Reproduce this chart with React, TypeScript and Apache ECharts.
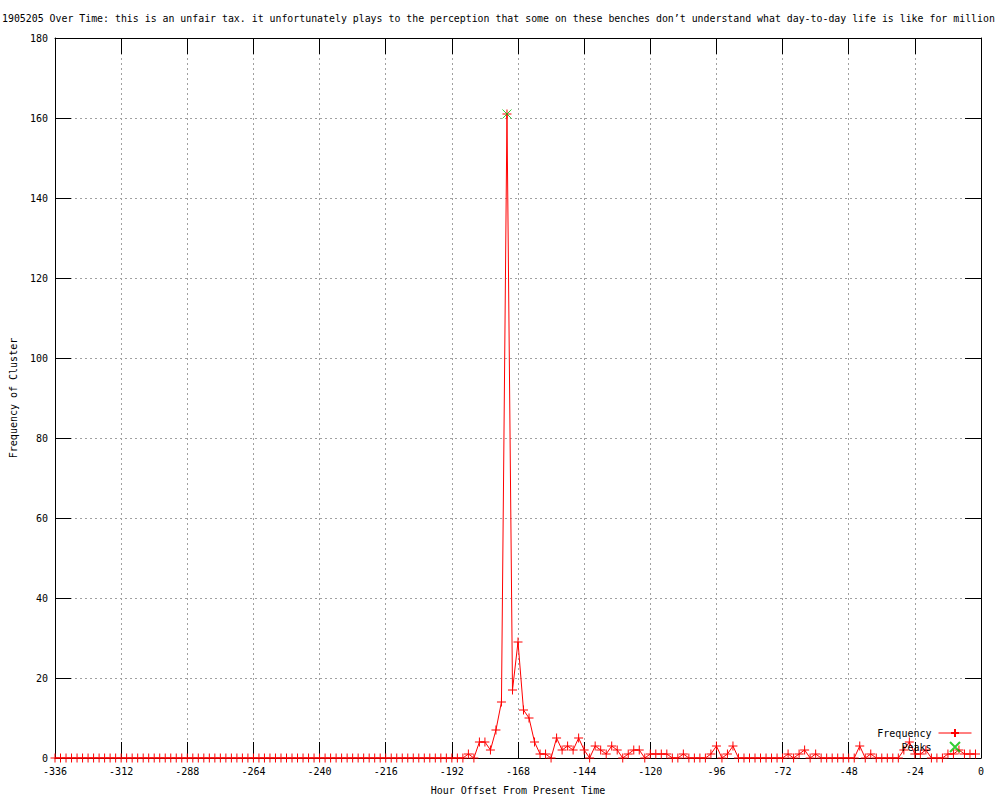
import React, { useEffect, useRef } from "react";
import * as echarts from "echarts";

const titleText =
  "1905205 Over Time: this is an unfair tax. it unfortunately plays to the perception that some on these benches don\u2019t understand what day-to-day life is like for million";

const startHour = -336;
const hourStep = 2;

// Frequency per 2-hour bin, from -336 to -2
const frequency = [
  0, 0, 0, 0, 0, 0, 0, 0, 0, 0, 0, 0, // -336 .. -314
  0, 0, 0, 0, 0, 0, 0, 0, 0, 0, 0, 0, // -312 .. -290
  0, 0, 0, 0, 0, 0, 0, 0, 0, 0, 0, 0, // -288 .. -266
  0, 0, 0, 0, 0, 0, 0, 0, 0, 0, 0, 0, // -264 .. -242
  0, 0, 0, 0, 0, 0, 0, 0, 0, 0, 0, 0, // -240 .. -218
  0, 0, 0, 0, 0, 0, 0, 0, 0, 0, 0, 0, // -216 .. -194
  0, 0, 0, 1, 0, 4, 4, 2, 7, 14, 161, 17, // -192 .. -170
  29, 12, 10, 4, 1, 1, 0, 5, 2, 3, 2, 5, // -168 .. -146
  2, 0, 3, 2, 1, 3, 2, 0, 1, 2, 2, 0, // -144 .. -122
  1, 1, 1, 1, 0, 0, 1, 0, 0, 0, 0, 1, // -120 .. -98
  3, 0, 1, 3, 0, 0, 0, 0, 0, 0, 0, 0, // -96 .. -74
  0, 1, 0, 1, 2, 0, 1, 0, 0, 0, 0, 0, // -72 .. -50
  0, 0, 3, 0, 1, 0, 0, 0, 0, 0, 2, 4, // -48 .. -26
  1, 1, 2, 0, 0, 0, 1, 1, 2, 1, 1, 1, // -24 .. -2
];

const peakHours = [-172];
const peakValues = [161];

const xTicks = { min: -336, max: 0, interval: 24 };
const yTicks = { min: 0, max: 180, interval: 20 };

const FONT = "'DejaVu Sans Mono', monospace";
const PLUS = "path://M0,5 L10,5 M5,0 L5,10";
const CROSS = "path://M0,0 L10,10 M10,0 L0,10";

export default function App() {
  const ref = useRef<HTMLDivElement>(null);

  useEffect(() => {
    if (!ref.current) return;
    const chart = echarts.init(ref.current, null, { renderer: "svg" });

    const freqData = frequency.map((v, i) => [startHour + i * hourStep, v]);
    const peakData = peakHours.map((h, i) => [h, peakValues[i]]);

    const tickStyle = { show: true, inside: true, length: 16, lineStyle: { color: "#000", width: 1 } };
    const axisLine = { show: true, onZero: false, lineStyle: { color: "#000", width: 1 } };
    const split = { show: true, lineStyle: { color: "#a0a0a0", width: 1, type: [2, 3] as any } };
    const label = { color: "#000", fontFamily: FONT, fontSize: 10 };

    chart.setOption({
      animation: false,
      backgroundColor: "#fff",
      title: {
        text: titleText,
        left: 2,
        top: 13,
        padding: 0,
        textStyle: { fontFamily: FONT, fontSize: 9.9, fontWeight: "normal", color: "#000" },
      },
      grid: { left: 55, right: 19, top: 38, bottom: 40, containLabel: false },
      legend: {
        orient: "vertical",
        right: 23,
        top: 723,
        align: "right",
        itemGap: 3,
        itemWidth: 33,
        itemHeight: 10,
        lineStyle: { width: 1 },
        textStyle: { fontFamily: FONT, fontSize: 10, color: "#000", padding: [0, 2, 0, 0] },
        data: ["Frequency", "Peaks"],
      },
      xAxis: [
        {
          type: "value",
          position: "bottom",
          ...xTicks,
          axisLine,
          axisTick: tickStyle,
          splitLine: split,
          axisLabel: { ...label, margin: 8 },
          name: "Hour Offset From Present Time",
          nameLocation: "middle",
          nameGap: 27,
          nameTextStyle: { fontFamily: FONT, fontSize: 10, color: "#000" },
        },
        {
          type: "value",
          position: "top",
          ...xTicks,
          axisLine,
          axisTick: tickStyle,
          splitLine: { show: false },
          axisLabel: { show: false },
        },
      ],
      yAxis: [
        {
          type: "value",
          position: "left",
          ...yTicks,
          axisLine,
          axisTick: tickStyle,
          splitLine: split,
          axisLabel: { ...label, margin: 7 },
          name: "Frequency of Cluster",
          nameLocation: "middle",
          nameGap: 37,
          nameTextStyle: { fontFamily: FONT, fontSize: 10, color: "#000" },
        },
        {
          type: "value",
          position: "right",
          ...yTicks,
          axisLine,
          axisTick: tickStyle,
          splitLine: { show: false },
          axisLabel: { show: false },
        },
      ],
      series: [
        {
          name: "Frequency",
          type: "line",
          data: freqData,
          xAxisIndex: 0,
          yAxisIndex: 0,
          symbol: PLUS,
          symbolSize: 9,
          showAllSymbol: true,
          lineStyle: { color: "#ff0000", width: 1 },
          itemStyle: { color: "#ff0000", borderColor: "#ff0000", borderWidth: 1 },
          emphasis: { disabled: true },
        },
        {
          name: "Peaks",
          type: "scatter",
          data: peakData,
          xAxisIndex: 0,
          yAxisIndex: 0,
          symbol: CROSS,
          symbolSize: 9,
          itemStyle: { color: "#00c000", borderColor: "#00c000", borderWidth: 1 },
          emphasis: { disabled: true },
          z: 3,
        },
      ],
    });

    return () => chart.dispose();
  }, []);

  return (
    <div
      ref={ref}
      style={{ position: "absolute", left: 0, top: 0, width: 1000, height: 800 }}
    />
  );
}
